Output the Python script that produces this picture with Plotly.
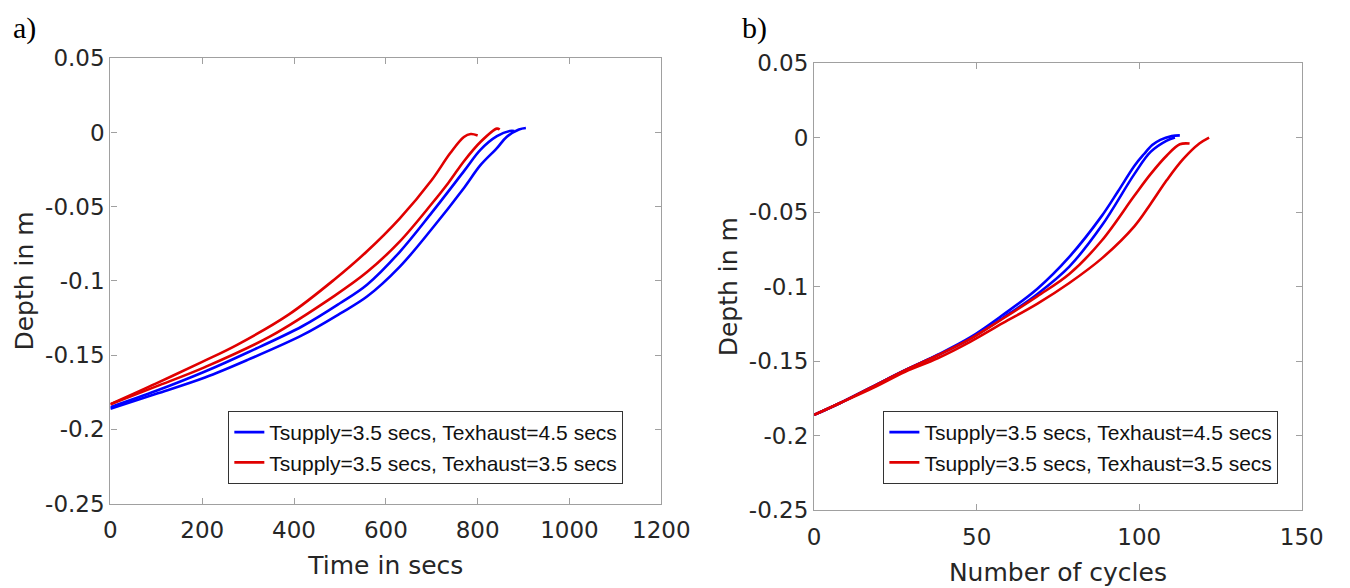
import plotly.graph_objects as go

# ---------------- data ----------------
# Panel a: depth vs time
time_red1 = [0, 100, 200, 276, 389, 488, 559, 630, 700, 740, 770, 785, 800]
depth_red1 = [-0.183, -0.169, -0.1545, -0.143, -0.1225, -0.099, -0.080, -0.058, -0.032, -0.014, -0.003, -0.001, -0.002]
time_red2 = [0, 100, 206, 347, 488, 559, 630, 700, 736, 771, 806, 842, 848]
depth_red2 = [-0.183, -0.171, -0.158, -0.1375, -0.110, -0.094, -0.0735, -0.048, -0.034, -0.019, -0.0064, 0.0026, 0.002]
time_blue1 = [0, 100, 206, 300, 418, 500, 559, 630, 700, 771, 806, 842, 870, 880]
depth_blue1 = [-0.185, -0.174, -0.161, -0.148, -0.1305, -0.115, -0.1025, -0.0805, -0.054, -0.0257, -0.0117, -0.0025, 0.001, 0.001]
time_blue2 = [0, 100, 206, 300, 418, 500, 559, 630, 700, 771, 806, 842, 863, 890, 905]
depth_blue2 = [-0.186, -0.176, -0.165, -0.153, -0.1365, -0.122, -0.1105, -0.0905, -0.065, -0.037, -0.022, -0.0105, -0.003, 0.002, 0.003]

# Panel b: depth vs number of cycles
cyc_blue1 = [0, 8, 18, 28, 38, 48, 58, 68.6, 78.5, 88.5, 93.5, 98.5, 101.5, 104, 106.5, 110, 112.5]
dep_blue1 = [-0.186, -0.178, -0.167, -0.156, -0.1456, -0.134, -0.119, -0.1015, -0.080, -0.0525, -0.036, -0.019, -0.011, -0.005, -0.0015, 0.001, 0.0015]
cyc_blue2 = [0, 8, 18, 28, 38, 48, 58, 68.6, 78.5, 88.5, 98.5, 103.5, 108.5, 111]
dep_blue2 = [-0.186, -0.178, -0.167, -0.156, -0.146, -0.135, -0.121, -0.105, -0.0865, -0.059, -0.0245, -0.0096, -0.002, 0.0]
cyc_red1 = [0, 8, 18, 28, 38, 48, 58, 68.6, 78.5, 88.5, 98.5, 103.5, 108.5, 112.5, 115.5]
dep_red1 = [-0.186, -0.178, -0.167, -0.156, -0.146, -0.135, -0.1215, -0.1065, -0.0915, -0.069, -0.039, -0.0245, -0.012, -0.0045, -0.004]
cyc_red2 = [0, 8, 18, 28, 38, 48, 58, 68.6, 78.5, 88.5, 98.5, 103.5, 108.5, 113.5, 118.5, 121.5]
dep_red2 = [-0.186, -0.178, -0.168, -0.157, -0.148, -0.137, -0.1245, -0.1115, -0.0975, -0.081, -0.0595, -0.0445, -0.0285, -0.0145, -0.004, 0.0]

legend_blue = "Tsupply=3.5 secs, Texhaust=4.5 secs"
legend_red = "Tsupply=3.5 secs, Texhaust=3.5 secs"

y_ticks = [0.05, 0, -0.05, -0.1, -0.15, -0.2, -0.25]
y_ticktext = ["0.05", "0", "-0.05", "-0.1", "-0.15", "-0.2", "-0.25"]
xa_ticks = [0, 200, 400, 600, 800, 1000, 1200]
xb_ticks = [0, 50, 100, 150]

# ---------------- styling ----------------
BLUE = "#0000ff"
RED = "#e00000"
FONT = "DejaVu Sans"
LEGFONT = "Liberation Sans"
TXT = "#262626"
AX = "#a0a0a0"

fig = go.Figure()

def add(x, y, color, xa, ya, name, show, lg):
    fig.add_trace(go.Scatter(
        x=x, y=y, mode="lines", name=name, showlegend=show, legend=lg,
        line=dict(color=color, width=2.6, shape="spline", smoothing=1.0),
        xaxis=xa, yaxis=ya))

# panel a
add(time_blue1, depth_blue1, BLUE, "x", "y", legend_blue, True, "legend")
add(time_blue2, depth_blue2, BLUE, "x", "y", legend_blue, False, "legend")
add(time_red1, depth_red1, RED, "x", "y", legend_red, True, "legend")
add(time_red2, depth_red2, RED, "x", "y", legend_red, False, "legend")
# panel b
add(cyc_blue1, dep_blue1, BLUE, "x2", "y2", legend_blue, True, "legend2")
add(cyc_blue2, dep_blue2, BLUE, "x2", "y2", legend_blue, False, "legend2")
add(cyc_red1, dep_red1, RED, "x2", "y2", legend_red, True, "legend2")
add(cyc_red2, dep_red2, RED, "x2", "y2", legend_red, False, "legend2")

W, H = 1350, 588

def px_x(p):
    return p / W

def px_y(p):
    return 1 - p / H

common_axis = dict(
    showline=True, linecolor=AX, linewidth=1.3, mirror="ticks",
    ticks="inside", ticklen=6, tickcolor=AX, tickwidth=1,
    showgrid=False, zeroline=False,
    tickfont=dict(family=FONT, size=23, color=TXT),
)
xtitle_font = dict(family=FONT, size=25, color=TXT)

fig.update_layout(
    width=W, height=H, autosize=False,
    margin=dict(l=0, r=0, t=0, b=0),
    paper_bgcolor="white", plot_bgcolor="white",
    xaxis=dict(domain=[px_x(98), px_x(664)], range=[0, 1200], tickvals=xa_ticks,
               ticklabelstandoff=6,
               title=dict(text="Time in secs", font=xtitle_font, standoff=14),
               anchor="y", **common_axis),
    yaxis=dict(domain=[px_y(505), px_y(39)], range=[-0.25, 0.05], tickvals=y_ticks, ticktext=y_ticktext,
               title=dict(text="Depth in m", font=xtitle_font, standoff=4),
               anchor="x", **common_axis),
    xaxis2=dict(domain=[px_x(821), px_x(1322)], range=[0, 150], tickvals=xb_ticks,
                ticklabelstandoff=6,
                title=dict(text="Number of cycles", font=xtitle_font, standoff=14),
                anchor="y2", **common_axis),
    yaxis2=dict(domain=[px_y(512), px_y(44)], range=[-0.25, 0.05], tickvals=y_ticks, ticktext=y_ticktext,
                title=dict(text="Depth in m", font=xtitle_font, standoff=4),
                anchor="x2", **common_axis),
    legend=dict(x=px_x(625), y=px_y(408), xanchor="right", yanchor="top",
                bgcolor="white", bordercolor="#333333", borderwidth=1,
                font=dict(family=LEGFONT, size=21, color="#111111"), tracegroupgap=0,
                itemwidth=30),
    legend2=dict(x=px_x(1298), y=px_y(408), xanchor="right", yanchor="top",
                 bgcolor="white", bordercolor="#333333", borderwidth=1,
                 font=dict(family=LEGFONT, size=21, color="#111111"), tracegroupgap=0,
                 itemwidth=30),
    annotations=[
        dict(text="a)", x=0.0, y=1.0, xref="paper", yref="paper", xanchor="left", yanchor="top",
             showarrow=False, font=dict(family="Liberation Serif", size=30, color="black"), xshift=-4, yshift=12),
        dict(text="b)", x=px_x(745), y=1.0, xref="paper", yref="paper", xanchor="left", yanchor="top",
             showarrow=False, font=dict(family="Liberation Serif", size=30, color="black"), yshift=12),
    ],
)

fig.write_html("out.html")
